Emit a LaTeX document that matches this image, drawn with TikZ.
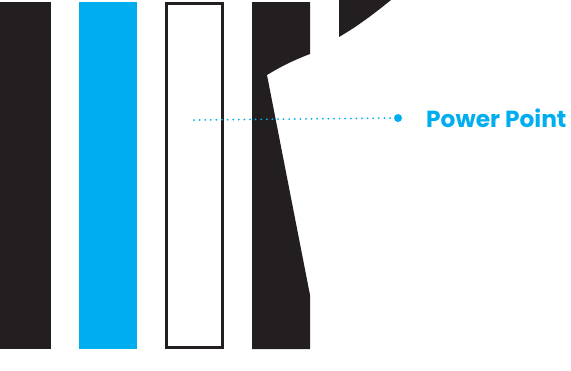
\documentclass[tikz,border=0pt]{standalone}
\usepackage{fontspec}
\newfontfamily\labelfont{Poppins}
\usepackage{xcolor}
\definecolor{ink}{HTML}{231F20}
\definecolor{cyanbar}{HTML}{00AEEF}
\usetikzlibrary{positioning, calc}

\begin{document}
\begin{tikzpicture}[x=1pt, y=-1pt,
    bar/.style={fill=ink},
    leader/.style={cyanbar, line width=2pt, line cap=round, dash pattern=on 0pt off 5.6pt},
    tipdot/.style={circle, fill=cyanbar, inner sep=0pt, minimum size=8pt}]
  \useasboundingbox (0, 0) rectangle (571, 370);

  % bars
  \fill[bar] (0, 2) rectangle (51, 349);
  \fill[cyanbar] (79, 2) rectangle (137, 349);
  \draw[ink, line width=3pt] (166.5, 3.5) rectangle (222.5, 347.5);

  % cut bar
  \fill[bar] (252, 2) -- (310, 2) -- (310, 54)
    .. controls (294, 60) and (280, 67) .. (267, 75)
    -- (310, 295) -- (310, 349) -- (252, 349) -- cycle;
  \fill[bar] (339, 0) -- (339, 37)
    .. controls (358, 26) and (375, 13) .. (391, 0) -- cycle;

  % leader and label
  \coordinate (lstart) at (194, 120);
  \node[tipdot] (pdot) at (398, 118) {};
  \draw[leader] (lstart) -- (pdot);
  \node[anchor=west, text=cyanbar, font=\labelfont\bfseries\fontsize{23.3}{26}\selectfont,
        inner sep=0pt] (plabel) at (426, 118.5) {Power Point};
\end{tikzpicture}
\end{document}
